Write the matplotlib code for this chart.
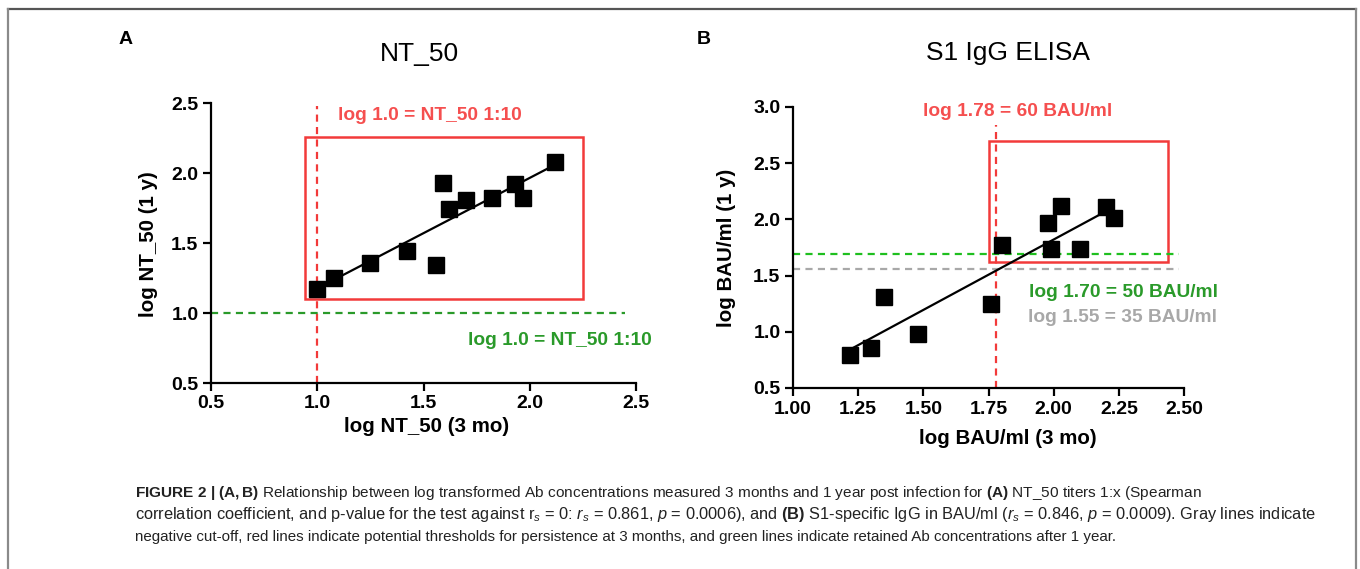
import numpy as np
import matplotlib
matplotlib.use("Agg")
import matplotlib.pyplot as plt
from matplotlib.lines import Line2D

plt.rcParams['font.family'] = ['Liberation Sans', 'DejaVu Sans']
plt.rcParams['mathtext.fontset'] = 'custom'
plt.rcParams['mathtext.rm'] = 'Liberation Sans'
plt.rcParams['mathtext.it'] = 'Liberation Sans:italic'
plt.rcParams['mathtext.bf'] = 'Liberation Sans:bold'

# ---- Data ----
nt50_3mo = [1.00, 1.08, 1.25, 1.42, 1.56, 1.59, 1.62, 1.70, 1.82, 1.93, 1.97, 2.12]
nt50_1y = [1.17, 1.25, 1.36, 1.44, 1.34, 1.93, 1.74, 1.81, 1.82, 1.92, 1.82, 2.08]

bau_3mo = [1.22, 1.30, 1.35, 1.48, 1.76, 1.80, 1.98, 1.99, 2.03, 2.10, 2.20, 2.23]
bau_1y = [0.79, 0.855, 1.31, 0.98, 1.25, 1.77, 1.97, 1.74, 2.12, 1.74, 2.11, 2.01]

a_xticks = [0.5, 1.0, 1.5, 2.0, 2.5]
a_yticks = [0.5, 1.0, 1.5, 2.0, 2.5]
b_xticks = [1.00, 1.25, 1.50, 1.75, 2.00, 2.25, 2.50]
b_yticks = [0.5, 1.0, 1.5, 2.0, 2.5, 3.0]

a_red_x = 1.0
a_green_y = 1.0
a_box = (0.94, 1.10, 2.25, 2.26)   # x0, y0, x1, y1
b_red_x = 1.78
b_green_y = 1.69
b_gray_y = 1.56
b_box = (1.75, 1.62, 2.44, 2.70)

RED = '#f23a3a'
RED_T = '#f54f4f'
GREEN_L = '#1fbf1f'
GREEN = '#2a9a2a'
GRAY = '#a8a8a8'

W, H = 1360, 569
fig = plt.figure(figsize=(13.6, 5.69), dpi=100)

def fx(px):
    return px / W

def fy(py):
    return 1 - py / H

# outer frame
fig.add_artist(Line2D([fx(8), fx(1356)], [fy(9), fy(9)], color='#555555', lw=1.6, transform=fig.transFigure))
fig.add_artist(Line2D([fx(8), fx(8)], [fy(9), 0], color='#8a8a8a', lw=1.6, transform=fig.transFigure))
fig.add_artist(Line2D([fx(1356), fx(1356)], [fy(9), 0], color='#8a8a8a', lw=1.6, transform=fig.transFigure))

def style_ax(ax):
    for s in ['top', 'right']:
        ax.spines[s].set_visible(False)
    for s in ['left', 'bottom']:
        ax.spines[s].set_linewidth(1.6)
    ax.tick_params(width=1.6, length=6, labelsize=14, pad=3)
    for lab in ax.get_xticklabels() + ax.get_yticklabels():
        lab.set_fontweight('bold')

dash = (0, (3.2, 2.4))
ANN = 13.8
LAB = 14.8

# ---- Panel A ----
axA = fig.add_axes([fx(211), fy(383), 425/W, 280/H])
axA.set_xlim(0.5, 2.5)
axA.set_ylim(0.5, 2.5)
axA.set_xticks(a_xticks)
axA.set_yticks(a_yticks)
axA.set_xticklabels([f"{t:.1f}" for t in a_xticks])
axA.set_yticklabels([f"{t:.1f}" for t in a_yticks])
style_ax(axA)
axA.plot([a_red_x, a_red_x], [0.5, 2.48], color=RED, lw=1.6, ls=dash, clip_on=False)
axA.plot([0.5, 2.45], [a_green_y, a_green_y], color=GREEN, lw=1.6, ls=dash, clip_on=False)
axA.add_patch(plt.Rectangle((a_box[0], a_box[1]), a_box[2]-a_box[0], a_box[3]-a_box[1],
                            fill=False, ec=RED, lw=1.8))
ca = np.polyfit(nt50_3mo, nt50_1y, 1)
xa = np.array([min(nt50_3mo), max(nt50_3mo)])
axA.plot(xa, np.polyval(ca, xa), color='black', lw=1.6)
axA.plot(nt50_3mo, nt50_1y, 's', color='black', ms=11, clip_on=False)
axA.text(1.10, 2.414, "log 1.0 = NT_50 1:10", color=RED_T, fontsize=ANN, fontweight='bold',
         ha='left', va='center')
axA.text(1.709, 0.807, "log 1.0 = NT_50 1:10", color=GREEN, fontsize=ANN, fontweight='bold',
         ha='left', va='center', clip_on=False)
fig.text(fx(427), fy(426), "log NT_50 (3 mo)", fontsize=LAB, fontweight='bold', ha='center', va='center')
fig.text(fx(148), fy(244), "log NT_50 (1 y)", fontsize=LAB, fontweight='bold', ha='center', va='center',
         rotation=90)

# ---- Panel B ----
axB = fig.add_axes([fx(793), fy(388), 391/W, 281/H])
axB.set_xlim(1.0, 2.5)
axB.set_ylim(0.5, 3.0)
axB.set_xticks(b_xticks)
axB.set_yticks(b_yticks)
axB.set_xticklabels([f"{t:.2f}" for t in b_xticks])
axB.set_yticklabels([f"{t:.1f}" for t in b_yticks])
style_ax(axB)
axB.plot([b_red_x, b_red_x], [0.5, 2.84], color=RED, lw=1.6, ls=dash, clip_on=False)
axB.plot([1.0, 2.48], [b_gray_y, b_gray_y], color=GRAY, lw=1.6, ls=dash, clip_on=False)
axB.plot([1.0, 2.48], [b_green_y, b_green_y], color=GREEN_L, lw=1.6, ls=dash, clip_on=False)
axB.add_patch(plt.Rectangle((b_box[0], b_box[1]), b_box[2]-b_box[0], b_box[3]-b_box[1],
                            fill=False, ec=RED, lw=1.8))
cb = np.polyfit(bau_3mo, bau_1y, 1)
xb = np.array([min(bau_3mo), 2.21])
axB.plot(xb, np.polyval(cb, xb), color='black', lw=1.6)
axB.plot(bau_3mo, bau_1y, 's', color='black', ms=11, clip_on=False)
axB.text(1.499, 2.964, "log 1.78 = 60 BAU/ml", color=RED_T, fontsize=ANN, fontweight='bold',
         ha='left', va='center', clip_on=False)
axB.text(1.905, 1.354, "log 1.70 = 50 BAU/ml", color=GREEN, fontsize=ANN, fontweight='bold',
         ha='left', va='center', clip_on=False)
axB.text(1.901, 1.123, "log 1.55 = 35 BAU/ml", color=GRAY, fontsize=ANN, fontweight='bold',
         ha='left', va='center', clip_on=False)
fig.text(fx(1008), fy(438), "log BAU/ml (3 mo)", fontsize=LAB, fontweight='bold', ha='center', va='center')
fig.text(fx(726), fy(248), "log BAU/ml (1 y)", fontsize=LAB, fontweight='bold', ha='center', va='center',
         rotation=90)

# panel letters and titles
fig.text(fx(126), fy(39), "A", fontsize=14, fontweight='bold', ha='center', va='center')
fig.text(fx(704), fy(39), "B", fontsize=14, fontweight='bold', ha='center', va='center')
fig.text(fx(419), fy(54), "NT_50", fontsize=19, ha='center', va='center')
fig.text(fx(1008), fy(53), "S1 IgG ELISA", fontsize=19, ha='center', va='center')

# caption
cap1 = (r"$\bf{FIGURE\ 2\ |\ (A,B)}$ Relationship between log transformed Ab concentrations measured "
        r"3 months and 1 year post infection for $\bf{(A)}$ NT_50 titers 1:x (Spearman")
cap2 = (r"correlation coefficient, and p-value for the test against r$_s$ = 0: $r_s$ = 0.861, "
        r"$p$ = 0.0006), and $\bf{(B)}$ S1-specific IgG in BAU/ml ($r_s$ = 0.846, $p$ = 0.0009). "
        r"Gray lines indicate")
cap3 = ("negative cut-off, red lines indicate potential thresholds for persistence at 3 months, "
        "and green lines indicate retained Ab concentrations after 1 year.")
cap_sizes = [11.1, 11.8, 10.9]
for i, (c, s) in enumerate(zip([cap1, cap2, cap3], cap_sizes)):
    fig.text(fx(135), fy(493 + 22*i), c, fontsize=s, ha='left', va='center', color='#222222')

fig.savefig("out.png", dpi=100)
